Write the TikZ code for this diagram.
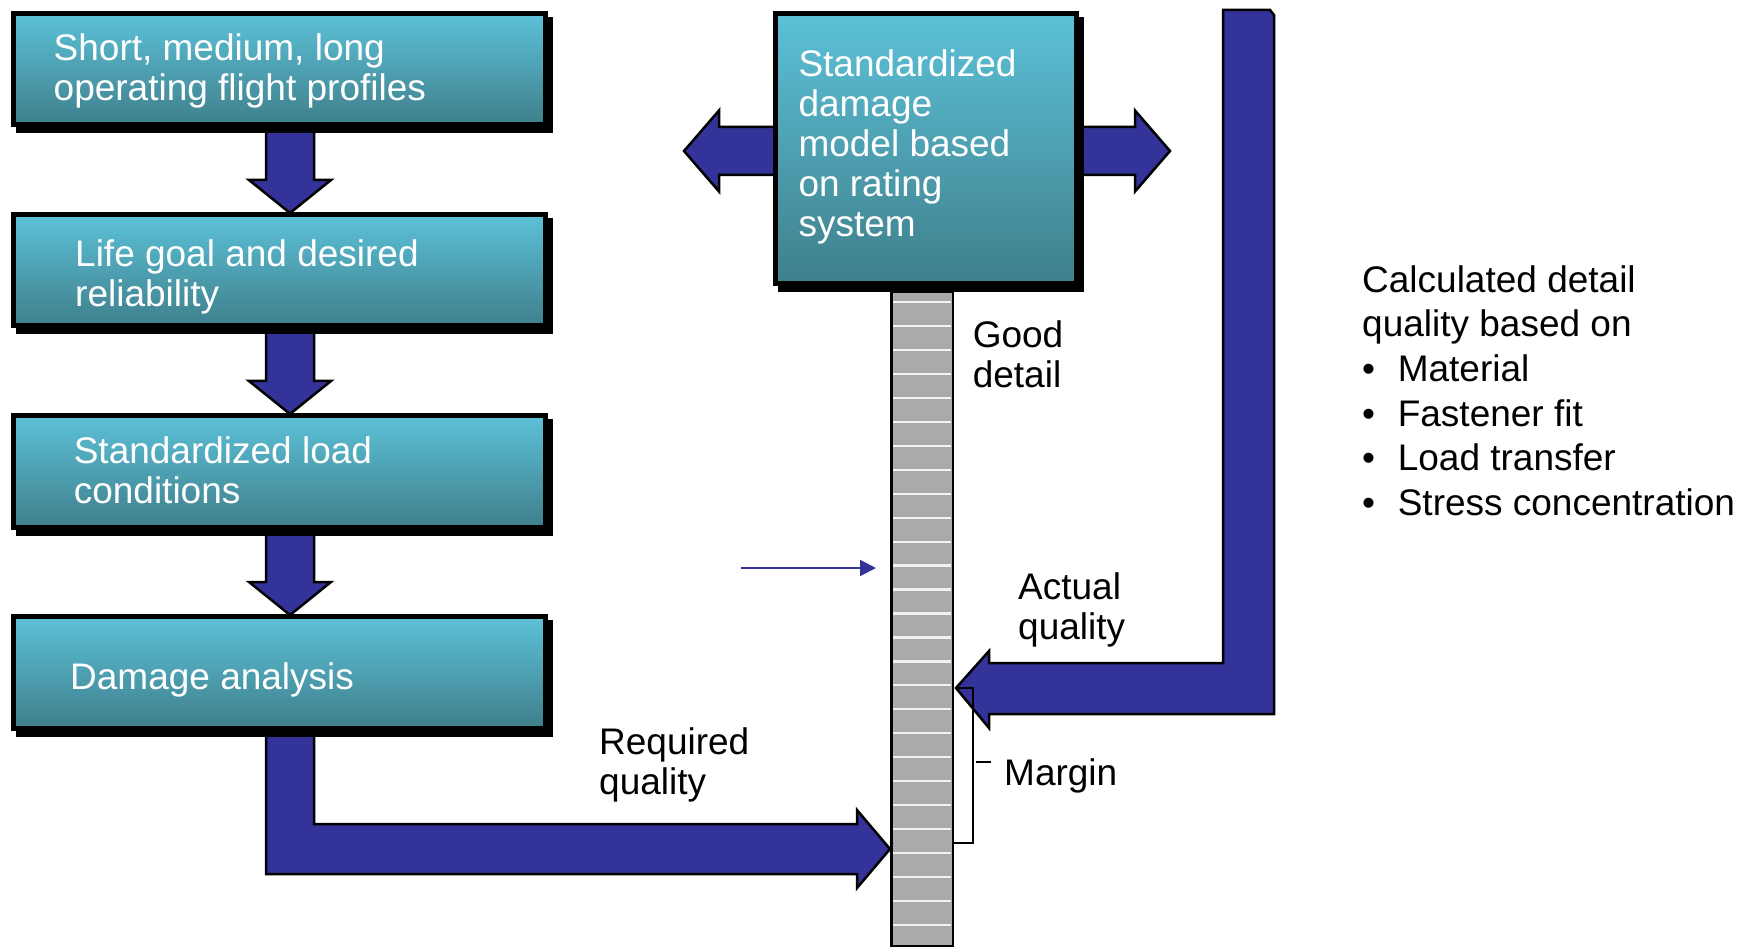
\documentclass[tikz,border=0pt]{standalone}
\usepackage{fontspec}
\setmainfont{Liberation Sans}
\usetikzlibrary{calc,arrows.meta}

\pgfdeclarelayer{back}
\pgfdeclarelayer{shade}
\pgfsetlayers{back,shade,main}

\definecolor{arrowblue}{RGB}{51,51,153}
\definecolor{tealtop}{RGB}{92,193,216}
\definecolor{tealbot}{RGB}{63,127,139}
\definecolor{bargray}{RGB}{170,170,170}
\definecolor{stripegray}{RGB}{242,242,242}

\newcommand\listdot{\makebox[35.6pt][l]{•}}

\tikzset{
  box/.style={draw=black, line width=5pt, top color=tealtop, bottom color=tealbot,
              inner sep=0pt, anchor=north west},
  boxtext/.style={anchor=north west, inner sep=0pt, align=left, text=white,
                  font=\fontsize{37}{40}\selectfont},
  lbl/.style={boxtext, text=black},
  blockarrow/.style={fill=arrowblue, draw=black, line width=2.5pt, line join=miter},
  bar/.style={draw=black, line width=2.5pt, fill=bargray, inner sep=0pt, anchor=north west},
  stripe/.style={draw=stripegray, line width=2.2pt},
  bracket/.style={draw=black, line width=2pt},
  pointer/.style={draw=arrowblue, line width=2pt, -{Triangle[length=16pt,width=16pt]}},
}

\begin{document}
\begin{tikzpicture}[x=1pt,y=-1pt]
  \begin{pgfonlayer}{back}
    \fill[white] (0,0) rectangle (1749,949);
  \end{pgfonlayer}
  \useasboundingbox (0,0) rectangle (1749,949);

  % process chain on the left
  \node[box, minimum width=532pt, minimum height=111.5pt] (b1) at (11,11)  {};
  \node[box, minimum width=532pt, minimum height=111.5pt] (b2) at (11,212) {};
  \node[box, minimum width=532pt, minimum height=111.5pt] (b3) at (11,413) {};
  \node[box, minimum width=532pt, minimum height=111.5pt] (b4) at (11,614) {};

  \node[boxtext] (t1) at ($(b1.north west)+(42.5,21)$) {\strut Short, medium, long\\operating flight profiles};
  \node[boxtext] (t2) at ($(b2.north west)+(64,26.6)$) {\strut Life goal and desired\\reliability};
  \node[boxtext] (t3) at ($(b3.north west)+(62.6,22)$) {\strut Standardized load\\conditions};
  \node[boxtext] (t4) at ($(b4.north west)+(59,47)$) {\strut Damage analysis};

  % rating scale
  \node[bar, minimum width=61.5pt, minimum height=653.5pt] (bar) at (890,291) {};
  \foreach \i in {0,...,26}
    \draw[stripe] ($(bar.north west)+(2.8,{11+23.96*\i})$) -- ($(bar.north east)+(-2.8,{11+23.96*\i})$);

  % damage model box
  \node[box, minimum width=301pt, minimum height=270pt] (b5) at (773,11) {};
  \node[boxtext] (t5) at ($(b5.north west)+(25.3,37)$)
    {\strut Standardized\\damage\\model based\\on rating\\system};

  % levels on the scale
  \coordinate (req) at (bar.west |- 0,849);
  \coordinate (act) at ($(bar.east |- 0,688)+(2,0)$);
  \coordinate (src) at (1248.5,10);
  \coordinate (ptr) at (741,568);

  % labels
  \node[lbl] (good) at (972.6,319) {\strut Good\\detail};
  \node[lbl] (actual) at (1018,571.5) {\strut Actual\\quality};
  \node[lbl] (margin) at (1004,757) {\strut Margin};
  \node[lbl] (required) at (599,726.5) {\strut Required\\quality};
  \node[lbl, font=\fontsize{37}{44.6}\selectfont] (basis) at (1362,260.8)
    {\strut Calculated detail\\quality based on\\\listdot Material\\\listdot Fastener fit\\\listdot Load transfer\\\listdot Stress concentration};

  % margin bracket
  \draw[bracket] (act) -- ++(17,0) |- ($(bar.east |- req)+(0,-6)$);
  \draw[bracket] ($(margin.north west)+(-28,5)$) -- ($(margin.north west)+(-13,5)$);

  % thin pointer
  \draw[pointer, shorten >=14pt] (ptr) -- (ptr -| bar.west);

  % box shadows
  \begin{pgfonlayer}{shade}
    \foreach \n in {b1,b2,b3,b4,b5}
      \fill[black] ($(\n.north west)+(5,6)$) rectangle ($(\n.south east)+(5,6)$);
  \end{pgfonlayer}

  % block arrows
  \begin{pgfonlayer}{back}
    \foreach \a/\b in {b1/b2,b2/b3,b3/b4}
      \path[blockarrow] ($(\a.south)+(-13.5,0)$) -- ($(\b.north)+(-13.5,-32)$)
        -- ($(\b.north)+(-30.5,-32)$) -- ($(\b.north)+(10.5,1)$)
        -- ($(\b.north)+(51.5,-32)$) -- ($(\b.north)+(34.5,-32)$)
        -- ($(\a.south)+(34.5,0)$) -- cycle;

    % required quality
    \path[blockarrow] ($(b4.south)+(-13.5,0)$) -- ($(b4.south|-req)+(-13.5,25)$)
      -- ($(req)+(-33,25)$) -- ($(req)+(-33,39)$) -- (req)
      -- ($(req)+(-33,-39)$) -- ($(req)+(-33,-25)$)
      -- ($(b4.south|-req)+(34.5,-25)$) -- ($(b4.south)+(34.5,0)$) -- cycle;

    % actual quality
    \path[blockarrow] ($(src)+(-25.5,0)$) -- ($(src|-act)+(-25.5,-25)$)
      -- ($(act)+(33,-25)$) -- ($(act)+(33,-37)$) -- (act)
      -- ($(act)+(33,40)$) -- ($(act)+(33,26)$)
      -- ($(src|-act)+(25.5,26)$) -- ($(src)+(25.5,5)$) -- ($(src)+(21.5,0)$) -- cycle;

    % outward arrows of the damage model
    \path[blockarrow] ($(b5.west)+(10,-21.5)$) -- ($(b5.west)+(-54,-21.5)$)
      -- ($(b5.west)+(-54,-38)$) -- ($(b5.west)+(-89,2.5)$)
      -- ($(b5.west)+(-54,43)$) -- ($(b5.west)+(-54,26.5)$)
      -- ($(b5.west)+(10,26.5)$) -- cycle;
    \path[blockarrow] ($(b5.east)+(-10,-21.5)$) -- ($(b5.east)+(56,-21.5)$)
      -- ($(b5.east)+(56,-38)$) -- ($(b5.east)+(91,2.5)$)
      -- ($(b5.east)+(56,43)$) -- ($(b5.east)+(56,26.5)$)
      -- ($(b5.east)+(-10,26.5)$) -- cycle;
  \end{pgfonlayer}
\end{tikzpicture}
\end{document}
